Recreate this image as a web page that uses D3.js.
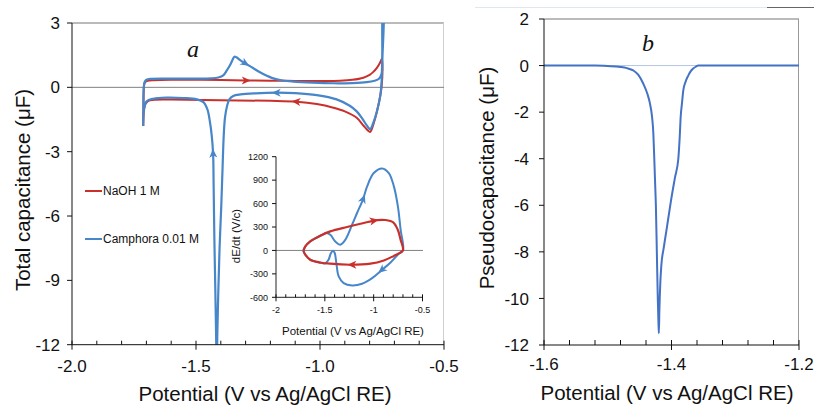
<!DOCTYPE html>
<html>
<head>
<meta charset="utf-8">
<script src="https://cdn.jsdelivr.net/npm/d3@7"></script>
<style>
  html, body { margin: 0; padding: 0; background: #fff; }
  svg { display: block; }
  text { font-family: "Liberation Sans", Arial, sans-serif; fill: #111; }
  text.panel-tag { font-family: "Liberation Serif", "Times New Roman", serif; font-style: italic; }
</style>
</head>
<body>
<svg id="fig" width="814" height="406"></svg>
<script>
// ---------- data ----------
// Panel a: total capacitance (uF) vs potential (V), cyclic scans
const naohCapacitance = [
  [-1.713,-1.80],[-1.712,-0.90],[-1.711,-0.20],[-1.709,0.12],[-1.705,0.24],[-1.695,0.30],
  [-1.67,0.33],[-1.60,0.35],[-1.50,0.35],[-1.40,0.34],[-1.30,0.32],[-1.20,0.31],
  [-1.10,0.30],[-1.00,0.30],[-0.92,0.31],[-0.87,0.35],[-0.825,0.45],[-0.80,0.58],
  [-0.785,0.72],[-0.77,0.92],[-0.758,1.15],[-0.751,1.32],[-0.749,1.20],[-0.752,0.0],
  [-0.765,-0.85],[-0.78,-1.55],[-0.792,-1.97],[-0.798,-2.08],[-0.808,-2.0],[-0.825,-1.78],
  [-0.852,-1.42],[-0.90,-1.12],[-0.946,-0.95],[-1.013,-0.78],[-1.094,-0.67],[-1.20,-0.63],
  [-1.40,-0.60],[-1.60,-0.57],[-1.67,-0.58],[-1.692,-0.63],[-1.704,-0.78],[-1.710,-1.05],
  [-1.712,-1.45],[-1.713,-1.80]
];
const camphoraCapacitance = [
  [-1.7125,-1.80],[-1.712,-0.90],[-1.711,-0.10],[-1.708,0.22],[-1.702,0.34],[-1.69,0.39],
  [-1.60,0.41],[-1.50,0.41],[-1.44,0.42],[-1.41,0.46],[-1.39,0.56],[-1.375,0.80],
  [-1.362,1.05],[-1.352,1.30],[-1.345,1.43],[-1.337,1.40],[-1.322,1.27],[-1.302,1.12],
  [-1.27,0.90],[-1.242,0.70],[-1.21,0.52],[-1.188,0.42],[-1.15,0.32],[-1.108,0.27],
  [-1.03,0.22],[-0.946,0.19],[-0.87,0.20],[-0.812,0.24],[-0.78,0.31],[-0.762,0.40],
  [-0.752,0.62],[-0.748,1.50],[-0.744,3.60],[-0.746,3.60],[-0.749,1.50],[-0.752,0.20],
  [-0.757,-0.40],[-0.77,-1.10],[-0.785,-1.65],[-0.798,-1.95],[-0.81,-1.80],[-0.83,-1.45],
  [-0.852,-1.12],[-0.88,-0.86],[-0.933,-0.56],[-1.013,-0.36],[-1.10,-0.27],[-1.175,-0.25],
  [-1.26,-0.28],[-1.32,-0.33],[-1.35,-0.40],[-1.365,-0.55],[-1.375,-0.88],[-1.383,-1.40],
  [-1.388,-2.20],[-1.393,-3.80],[-1.398,-5.50],[-1.405,-7.50],[-1.410,-9.50],[-1.414,-11.50],
  [-1.4165,-13.20],[-1.419,-11.50],[-1.422,-9.50],[-1.426,-7.00],[-1.429,-4.50],[-1.431,-3.10],
  [-1.437,-2.20],[-1.444,-1.60],[-1.454,-1.03],[-1.47,-0.69],[-1.497,-0.56],[-1.55,-0.50],
  [-1.618,-0.48],[-1.672,-0.53],[-1.699,-0.65],[-1.709,-1.00],[-1.7125,-1.80]
];
// approximate spots of the scan-direction arrows on each curve
const naohArrows = [[-1.30,0.32],[-1.094,-0.67]];
const camphoraArrows = [[-1.302,1.12],[-1.175,-0.25],[-1.431,-3.1]];

// Inset: dE/dt (V/c) vs potential (V)
const naohRate = [
  [-1.719,-4],[-1.70,51],[-1.65,115],[-1.547,188],[-1.444,244],[-1.273,300],[-1.101,351],
  [-0.965,388],[-0.88,390],[-0.80,360],[-0.752,262],[-0.725,140],[-0.70,0],[-0.742,-38],
  [-0.793,-70],[-0.896,-128],[-1.033,-170],[-1.239,-183],[-1.444,-170],[-1.547,-154],
  [-1.65,-119],[-1.70,-55],[-1.719,-4]
];
const camphoraRate = [
  [-1.489,226],[-1.444,201],[-1.393,115],[-1.342,73],[-1.29,137],[-1.221,329],[-1.170,479],
  [-1.108,658],[-1.067,820],[-0.999,991],[-0.913,1050],[-0.845,991],[-0.793,820],[-0.752,563],
  [-0.724,265],[-0.70,0],[-0.742,-42],[-0.827,-154],[-0.913,-247],[-1.016,-354],[-1.119,-426],
  [-1.221,-448],[-1.307,-418],[-1.358,-333],[-1.382,-162],[-1.399,-33],[-1.416,-4],[-1.437,-33],
  [-1.462,-119],[-1.496,-165],[-1.547,-158],[-1.65,-119],[-1.70,-55],[-1.719,-4],[-1.70,51],
  [-1.65,115],[-1.547,188],[-1.489,226]
];
const naohRateArrows = [[-1.0,385],[-1.22,-183]];
const camphoraRateArrows = [[-1.108,658],[-0.913,-247]];

// Panel b: pseudocapacitance (uF) vs potential (V)
const pseudoCapacitance = [
  [-1.60,0],[-1.52,0],[-1.50,-0.02],[-1.48,-0.06],[-1.47,-0.11],[-1.46,-0.21],[-1.452,-0.40],
  [-1.444,-0.79],[-1.438,-1.20],[-1.434,-1.60],[-1.4305,-2.20],[-1.4285,-2.90],[-1.427,-4.00],
  [-1.4255,-5.20],[-1.4245,-6.00],[-1.423,-8.00],[-1.4215,-10.00],[-1.4205,-11.00],[-1.4198,-11.50],
  [-1.419,-10.50],[-1.4175,-9.30],[-1.416,-8.60],[-1.412,-7.80],[-1.4075,-7.00],[-1.4008,-5.80],
  [-1.3945,-4.80],[-1.3893,-4.00],[-1.387,-3.00],[-1.3856,-2.20],[-1.3835,-1.60],[-1.3815,-1.07],
  [-1.378,-0.70],[-1.3737,-0.43],[-1.37,-0.25],[-1.366,-0.13],[-1.362,-0.05],[-1.358,0],
  [-1.30,0],[-1.20,0]
];

const series = [
  { name: "NaOH 1 M", color: "#c9302c" },
  { name: "Camphora 0.01 M", color: "#4686c9" }
];
const capTicks = [3, 0, -3, -6, -9, -12];
const potTicksA = [-2.0, -1.5, -1.0, -0.5];
const rateTicks = [1200, 900, 600, 300, 0, -300, -600];
const potTicksInset = [-2, -1.5, -1, -0.5];
const pseudoTicks = [2, 0, -2, -4, -6, -8, -10, -12];
const potTicksB = [-1.6, -1.4, -1.2];

// ---------- drawing ----------
const svg = d3.select("#fig");
const defs = svg.append("defs");
const lineGen = (x, y, curve) => d3.line().x(d => x(d[0])).y(d => y(d[1])).curve(curve);
const smooth = d3.curveCatmullRom.alpha(0.5);

function clipRect(id, x0, y0, x1, y1) {
  defs.append("clipPath").attr("id", id).append("rect")
    .attr("x", x0).attr("y", y0).attr("width", x1 - x0).attr("height", y1 - y0);
}

// arrowheads placed on the drawn path near the given data point, oriented along it
function addArrows(g, pathNode, pts, x, y, color) {
  const L = pathNode.getTotalLength();
  const samples = [];
  for (let s = 0; s <= L; s += 0.5) samples.push([s, pathNode.getPointAtLength(s)]);
  pts.forEach(p => {
    const px = x(p[0]), py = y(p[1]);
    let best = samples[0], bd = Infinity;
    samples.forEach(sm => {
      const d = (sm[1].x - px) ** 2 + (sm[1].y - py) ** 2;
      if (d < bd) { bd = d; best = sm; }
    });
    const a = pathNode.getPointAtLength(Math.max(0, best[0] - 2));
    const b = pathNode.getPointAtLength(Math.min(L, best[0] + 2));
    const ang = Math.atan2(b.y - a.y, b.x - a.x) * 180 / Math.PI;
    g.append("path")
      .attr("d", "M5,0 L-4,-4 L-1.5,0 L-4,4 Z")
      .attr("fill", color)
      .attr("transform", `translate(${best[1].x},${best[1].y}) rotate(${ang})`);
  });
}

// horizontal axis with long major ticks and short inner minor ticks
function bottomAxis(g, x, y0, majors, minorStep, fmt, fontSize, labelY, majLen, minLen) {
  const [d0, d1] = x.domain();
  const n = Math.round((d1 - d0) / minorStep);
  for (let i = 0; i <= n; i++) {
    const v = d0 + i * minorStep;
    const isMajor = majors.some(m => Math.abs(m - v) < 1e-9);
    g.append("line").attr("x1", x(v)).attr("x2", x(v))
      .attr("y1", y0 - minLen).attr("y2", isMajor ? y0 + majLen : y0)
      .attr("stroke", "#111").attr("stroke-width", 1);
  }
  majors.forEach(m => {
    g.append("text").attr("x", x(m)).attr("y", labelY)
      .attr("text-anchor", "middle").attr("font-size", fontSize).text(fmt(m));
  });
}
function leftAxis(g, y, x0, ticks, fmt, fontSize, tickLen, gap) {
  ticks.forEach(t => {
    g.append("line").attr("x1", x0 - tickLen).attr("x2", x0)
      .attr("y1", y(t)).attr("y2", y(t)).attr("stroke", "#111");
    g.append("text").attr("x", x0 - tickLen - gap).attr("y", y(t)).attr("dy", "0.36em")
      .attr("text-anchor", "end").attr("font-size", fontSize).text(fmt(t));
  });
}

// ===== Panel a =====
const xA = d3.scaleLinear().domain([-2, -0.5]).range([72, 444]);
const yA = d3.scaleLinear().domain([-12, 3]).range([344.7, 23]);
clipRect("clipA", 72, 23, 444, 344.7);
const gA = svg.append("g");

gA.append("line").attr("x1", 72).attr("x2", 444).attr("y1", 23).attr("y2", 23).attr("stroke", "#777");
gA.append("line").attr("x1", 443.5).attr("x2", 443.5).attr("y1", 23).attr("y2", 344.7).attr("stroke", "#cfcfcf");
gA.append("line").attr("x1", 72).attr("x2", 444).attr("y1", yA(0)).attr("y2", yA(0)).attr("stroke", "#808080");

const curvesA = gA.append("g").attr("clip-path", "url(#clipA)");
const naohPath = curvesA.append("path").datum(naohCapacitance)
  .attr("d", lineGen(xA, yA, smooth)).attr("fill", "none")
  .attr("stroke", series[0].color).attr("stroke-width", 2);
const campPath = curvesA.append("path").datum(camphoraCapacitance)
  .attr("d", lineGen(xA, yA, smooth)).attr("fill", "none")
  .attr("stroke", series[1].color).attr("stroke-width", 2.2);
addArrows(curvesA, naohPath.node(), naohArrows, xA, yA, series[0].color);
addArrows(curvesA, campPath.node(), camphoraArrows, xA, yA, series[1].color);

gA.append("line").attr("x1", 72).attr("x2", 72).attr("y1", 23).attr("y2", 344.7).attr("stroke", "#111");
gA.append("line").attr("x1", 72).attr("x2", 444).attr("y1", 344.7).attr("y2", 344.7).attr("stroke", "#111");
leftAxis(gA, yA, 72, capTicks, d => String(d), 17, 5, 7);
bottomAxis(gA, xA, 344.7, potTicksA, 0.1, d => d.toFixed(1), 17, 372, 5, 4);

gA.append("text").attr("transform", "translate(23,190) rotate(-90)").attr("dy", "0.36em")
  .attr("text-anchor", "middle").attr("font-size", 20.5).text("Total capacitance  (μF)");
gA.append("text").attr("x", 265).attr("y", 401).attr("text-anchor", "middle")
  .attr("font-size", 20.5).text("Potential (V vs Ag/AgCl RE)");
gA.append("text").attr("class", "panel-tag").attr("x", 193).attr("y", 57)
  .attr("text-anchor", "middle").attr("font-size", 24).text("a");

// legend
const legend = gA.append("g");
series.forEach((s, i) => {
  const ly = 191 + i * 48;
  legend.append("line").attr("x1", 85).attr("x2", 102).attr("y1", ly).attr("y2", ly)
    .attr("stroke", s.color).attr("stroke-width", 2);
  legend.append("text").attr("x", 103).attr("y", ly).attr("dy", "0.36em")
    .attr("font-size", 12).text(s.name);
});

// ===== Inset =====
const xI = d3.scaleLinear().domain([-2, -0.5]).range([276, 422.5]);
const yI = d3.scaleLinear().domain([-600, 1200]).range([297.3, 156.7]);
const gI = svg.append("g");
gI.append("line").attr("x1", 276).attr("x2", 423).attr("y1", yI(0)).attr("y2", yI(0)).attr("stroke", "#808080");
const campRatePath = gI.append("path").datum(camphoraRate)
  .attr("d", lineGen(xI, yI, smooth)).attr("fill", "none")
  .attr("stroke", series[1].color).attr("stroke-width", 2);
const naohRatePath = gI.append("path").datum(naohRate)
  .attr("d", lineGen(xI, yI, smooth)).attr("fill", "none")
  .attr("stroke", series[0].color).attr("stroke-width", 2.2);
addArrows(gI, campRatePath.node(), camphoraRateArrows, xI, yI, series[1].color);
addArrows(gI, naohRatePath.node(), naohRateArrows, xI, yI, series[0].color);

gI.append("line").attr("x1", 276).attr("x2", 276).attr("y1", 156.7).attr("y2", 297.3).attr("stroke", "#222");
gI.append("line").attr("x1", 276).attr("x2", 423).attr("y1", 297.3).attr("y2", 297.3).attr("stroke", "#222");
leftAxis(gI, yI, 276, rateTicks, d => String(d), 9, 4, 4);
bottomAxis(gI, xI, 297.3, potTicksInset, 0.1, d => String(d), 9, 313, 4, 3);
gI.append("text").attr("transform", "translate(236,236) rotate(-90)").attr("dy", "0.36em")
  .attr("text-anchor", "middle").attr("font-size", 11.5).text("dE/dt (V/c)");
gI.append("text").attr("x", 353).attr("y", 335).attr("text-anchor", "middle")
  .attr("font-size", 11.5).text("Potential (V vs Ag/AgCl RE)");

// ===== Panel b =====
const xB = d3.scaleLinear().domain([-1.6, -1.2]).range([544, 799]);
const yB = d3.scaleLinear().domain([-12, 2]).range([345, 19]);
const gB = svg.append("g");
gB.append("line").attr("x1", 475).attr("x2", 767).attr("y1", 7.5).attr("y2", 7.5).attr("stroke", "#e1e6f0");
gB.append("line").attr("x1", 767).attr("x2", 814).attr("y1", 7.5).attr("y2", 7.5).attr("stroke", "#666");
gB.append("line").attr("x1", 544).attr("x2", 799).attr("y1", 19).attr("y2", 19).attr("stroke", "#777");
gB.append("line").attr("x1", 798.5).attr("x2", 798.5).attr("y1", 19).attr("y2", 345).attr("stroke", "#999");
gB.append("line").attr("x1", 544).attr("x2", 799).attr("y1", yB(0)).attr("y2", yB(0))
  .attr("stroke", "#b3c6e6").attr("stroke-width", 1);
gB.append("path").datum(pseudoCapacitance)
  .attr("d", lineGen(xB, yB, d3.curveMonotoneX)).attr("fill", "none")
  .attr("stroke", "#4472c4").attr("stroke-width", 2);
gB.append("line").attr("x1", 544).attr("x2", 544).attr("y1", 19).attr("y2", 345).attr("stroke", "#111");
gB.append("line").attr("x1", 544).attr("x2", 799).attr("y1", 345).attr("y2", 345).attr("stroke", "#111");
leftAxis(gB, yB, 544, pseudoTicks, d => String(d), 17, 5, 10);
bottomAxis(gB, xB, 345, potTicksB, 0.04, d => d.toFixed(1), 17, 370, 5, 5);
gB.append("text").attr("transform", "translate(487,178) rotate(-90)").attr("dy", "0.36em")
  .attr("text-anchor", "middle").attr("font-size", 20.5).text("Pseudocapacitance  (μF)");
gB.append("text").attr("x", 667).attr("y", 400).attr("text-anchor", "middle")
  .attr("font-size", 20.5).text("Potential (V vs Ag/AgCl RE)");
gB.append("text").attr("class", "panel-tag").attr("x", 648).attr("y", 51)
  .attr("text-anchor", "middle").attr("font-size", 24).text("b");
</script>
</body>
</html>
